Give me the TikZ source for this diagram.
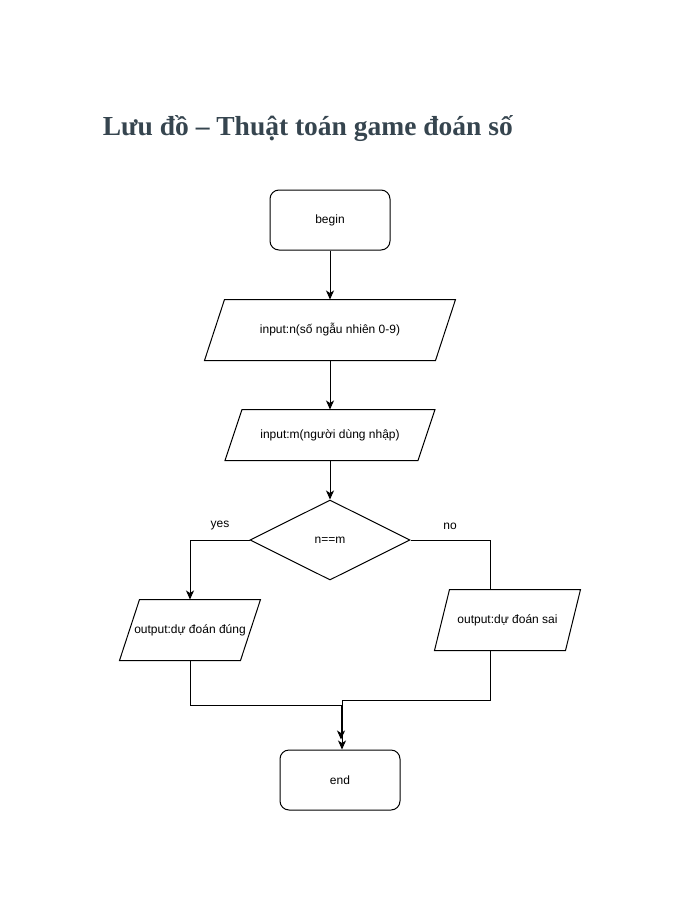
\documentclass[tikz,border=0pt]{standalone}
\usepackage{fontspec}
\setmainfont{Liberation Sans}
\newfontfamily\titlefont{Liberation Serif}
\usepackage{tikz}
\usetikzlibrary{arrows.meta, positioning, shapes.geometric}
\usepackage{xcolor}
\definecolor{titlegray}{HTML}{36454F}

% outline of an input/output box: node name, half of the slant
\newcommand{\ioframe}[2]{%
  \draw ([xshift=#2]#1.north west) -- ([xshift=#2]#1.north east)
     -- ([xshift=-#2]#1.south east) -- ([xshift=-#2]#1.south west) -- cycle;}

\begin{document}
\begin{tikzpicture}[x=1pt,y=-1pt,node distance=105pt,on grid,auto,line width=1pt,
    >={Stealth[length=9pt,width=8pt,inset=2.5pt]}]
    \tikzstyle{term}=[shape=rectangle,rounded corners=9pt,draw,minimum width=120pt,minimum height=60pt,font=\fontsize{12}{14}\selectfont]
    \tikzstyle{io}=[shape=rectangle,inner sep=0pt,minimum width=230pt,minimum height=60pt,font=\fontsize{12}{14}\selectfont]
    \tikzstyle{dec}=[shape=diamond,aspect=2,draw,inner sep=0pt,minimum width=160pt,minimum height=80pt,font=\fontsize{12}{14}\selectfont]
    \tikzstyle{lbl}=[font=\fontsize{12}{14}\selectfont]

    \useasboundingbox (0,0) rectangle (681,911);

    \node[anchor=base west,text=titlegray,font=\titlefont\bfseries\fontsize{27.5}{32}\selectfont] (T) at (99,135) {Lưu đồ – Thuật toán game đoán số};

    \node[term] (B) at (330,220) {begin};
    \node[io, below=110pt of B] (N) {input:n(số ngẫu nhiên 0-9)};
    \node[io, minimum width=192pt, minimum height=50pt, below of=N] (M) {input:m(người dùng nhập)};
    \node[dec, below of=M] (D) {n==m};
    \node[io, minimum width=120pt, below left=90pt and 140pt of D] (Y) {output:dự đoán đúng};
    \node[io, minimum width=130pt, below right=80pt and 177.5pt of D] (S) {output:dự đoán sai};
    \node[term, below right=240pt and 10pt of D] (E) {end};

    \ioframe{N}{10pt}
    \ioframe{M}{8.5pt}
    \ioframe{Y}{10pt}
    \ioframe{S}{7.5pt}

    \node[lbl] (yes) at (220,526) {yes};
    \node[lbl] (no) at (450,526) {no};

    \coordinate (J) at ([xshift=1pt,yshift=10pt]E.north);

    \path[->,draw]
    (B) edge (N)
    (N) edge (M)
    (M) edge (D)
   ;
    \draw[->] (D.west) -| (Y.north);
    \draw (D.east) -| ([xshift=-17.5pt]S.north);
    \draw[->] (Y.south) -- ++(0,45) -| (J);
    \draw[->] ([xshift=-17.5pt]S.south) -- ++(0,50) -| ([xshift=2pt]E.north);

\end{tikzpicture}
\end{document}
